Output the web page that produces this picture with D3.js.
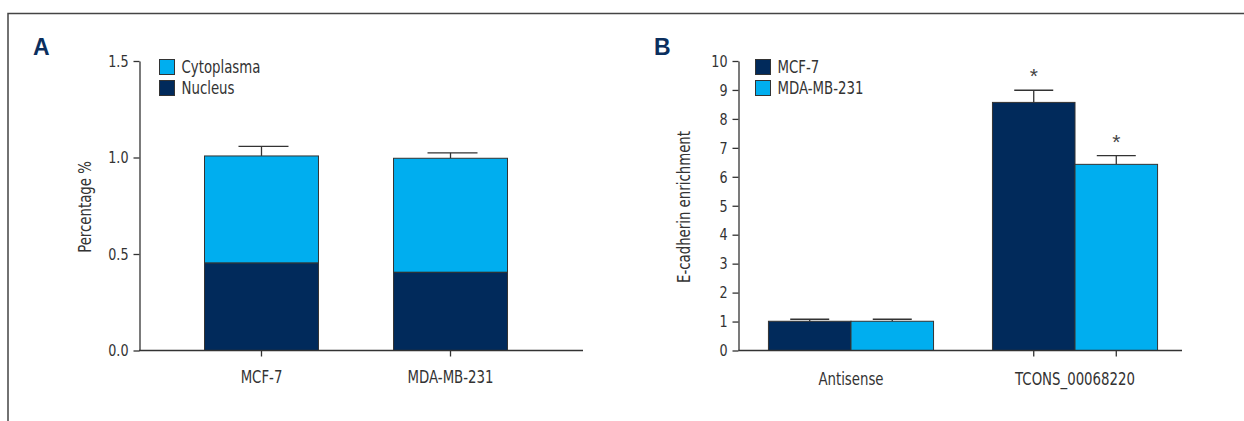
<!DOCTYPE html>
<html>
<head>
<meta charset="utf-8">
<script src="https://cdn.jsdelivr.net/npm/d3@7"></script>
<style>
  body { margin: 0; background: #fff; }
  svg { display: block; }
  text { font-family: "DejaVu Sans Condensed", "Liberation Sans", sans-serif; fill: #333; }
</style>
</head>
<body>
<svg id="chart" width="1244" height="421"></svg>
<script>
"use strict";

// Panel A data
const cellLines = ["MCF-7", "MDA-MB-231"];
const nucleus = [0.453, 0.405];
const cytoplasma = [0.555, 0.591];
const totalErr = [0.05, 0.028];
const yTicksA = [0, 0.5, 1.0, 1.5];

// Panel B data
const treatments = ["Antisense", "TCONS_00068220"];
const seriesB = ["MCF-7", "MDA-MB-231"];
const mcf7Enrich = [1.01, 8.57];
const mdaEnrich = [1.01, 6.43];
const mcf7Err = [0.07, 0.42];
const mdaErr = [0.07, 0.30];
const significant = [false, true];
const yTicksB = [0, 1, 2, 3, 4, 5, 6, 7, 8, 9, 10];

const navy = "#012a5b";
const cyan = "#00aeef";
const ink = "#333";

// the original uses a very narrow font, so squeeze text horizontally
const squeezeText = 0.8;
const squeezeTick = 0.86;

const svg = d3.select("#chart");

// squeeze a text selection around its own x position
function squeeze(sel, k) {
	sel.each(function() {
		const t = d3.select(this);
		const x = +t.attr("x") || 0;
		const prev = t.attr("transform") || "";
		t.attr("x", x / k).attr("transform", (prev + " scale(" + k + ",1)").trim());
	});
}

// frame around both panels
svg.append("path")
	.attr("d", "M8,421V13.5H1244")
	.attr("fill", "none")
	.attr("stroke", "#444")
	.attr("stroke-width", 1.5);

function panelLetter(x, y, s) {
	svg.append("text")
		.attr("x", x).attr("y", y)
		.style("font-family", "'Liberation Sans', sans-serif")
		.style("font-weight", "bold")
		.style("font-size", "23px")
		.style("fill", "#0b2f5e")
		.text(s);
}

function drawLegend(x, y, items) {
	items.forEach((it, i) => {
		svg.append("rect")
			.attr("x", x).attr("y", y + i * 21)
			.attr("width", 15).attr("height", 15)
			.attr("fill", it.color)
			.attr("stroke", ink).attr("stroke-width", 1);
		svg.append("text")
			.attr("x", x + 22).attr("y", y + i * 21 + 14)
			.style("font-size", "18.5px")
			.text(it.label)
			.call(squeeze, squeezeText);
	});
}

function styleAxis(g) {
	g.selectAll(".domain, .tick line").attr("stroke", ink).attr("stroke-width", 1.3);
	g.selectAll(".tick text").style("font-size", "16.5px").attr("fill", ink);
}

// ---------- Panel A ----------
panelLetter(33, 55, "A");

const yA = d3.scaleLinear().domain([0, 1.5]).range([350.5, 61]);
const xA = d3.scaleBand().domain(cellLines).range([134, 578]).paddingInner(0.397).paddingOuter(0.373);

const gyA = svg.append("g").attr("transform", "translate(139.5,0)")
	.call(d3.axisLeft(yA).tickValues(yTicksA).tickFormat(d3.format(".1f")).tickSize(6).tickSizeOuter(0).tickPadding(5));
styleAxis(gyA);
gyA.selectAll(".tick text").call(squeeze, squeezeTick);

svg.append("text")
	.attr("transform", "translate(91,207) rotate(-90)")
	.attr("text-anchor", "middle")
	.style("font-size", "18.5px")
	.text("Percentage %")
	.call(squeeze, squeezeText);

const stackA = cellLines.map((c, i) => ({
	name: c, nucleus: nucleus[i], total: nucleus[i] + cytoplasma[i], err: totalErr[i]
}));

// error bars behind bars
stackA.forEach(d => {
	const cx = xA(d.name) + xA.bandwidth() / 2;
	const top = yA(d.total + d.err);
	svg.append("line")
		.attr("x1", cx).attr("x2", cx)
		.attr("y1", yA(d.total)).attr("y2", top)
		.attr("stroke", ink).attr("stroke-width", 1.3);
	svg.append("line")
		.attr("x1", cx - 23).attr("x2", cx + 27)
		.attr("y1", top).attr("y2", top)
		.attr("stroke", ink).attr("stroke-width", 1.3);
});

svg.selectAll(".cyto")
	.data(stackA)
	.enter()
	.append("rect")
	.attr("x", d => xA(d.name))
	.attr("y", d => yA(d.total))
	.attr("width", xA.bandwidth())
	.attr("height", d => yA(d.nucleus) - yA(d.total))
	.attr("fill", cyan)
	.attr("stroke", ink).attr("stroke-width", 1);

svg.selectAll(".nuc")
	.data(stackA)
	.enter()
	.append("rect")
	.attr("x", d => xA(d.name))
	.attr("y", d => yA(d.nucleus))
	.attr("width", xA.bandwidth())
	.attr("height", d => yA(0) - yA(d.nucleus))
	.attr("fill", navy)
	.attr("stroke", ink).attr("stroke-width", 1);

const gxA = svg.append("g").attr("transform", "translate(0,350.5)")
	.call(d3.axisBottom(xA).tickSize(6).tickSizeOuter(0).tickPadding(13));
gxA.select(".domain").remove();
svg.append("line")
	.attr("x1", 139).attr("x2", 583)
	.attr("y1", 350.5).attr("y2", 350.5)
	.attr("stroke", ink).attr("stroke-width", 1.3);
styleAxis(gxA);
gxA.selectAll(".tick text").style("font-size", "18.5px").call(squeeze, squeezeText);

drawLegend(159.5, 59.5, [
	{label: "Cytoplasma", color: cyan},
	{label: "Nucleus", color: navy}
]);

// ---------- Panel B ----------
panelLetter(654, 55, "B");

const yB = d3.scaleLinear().domain([0, 10]).range([350.5, 61]);
const x0 = d3.scaleBand().domain(treatments).range([741, 1185]).paddingInner(0.263).paddingOuter(0.1225);
const x1 = d3.scaleBand().domain(seriesB).range([0, x0.bandwidth()]);
const colorB = d3.scaleOrdinal().domain(seriesB).range([navy, cyan]);

const gyB = svg.append("g").attr("transform", "translate(738.5,0)")
	.call(d3.axisLeft(yB).tickValues(yTicksB).tickFormat(d3.format("d")).tickSize(6).tickSizeOuter(0).tickPadding(5));
styleAxis(gyB);
gyB.selectAll(".tick text").call(squeeze, squeezeTick);

svg.append("text")
	.attr("transform", "translate(690,207) rotate(-90)")
	.attr("text-anchor", "middle")
	.style("font-size", "18.5px")
	.text("E-cadherin enrichment")
	.call(squeeze, squeezeText);

const barsB = [];
treatments.forEach((t, i) => {
	barsB.push({group: t, series: seriesB[0], value: mcf7Enrich[i], err: mcf7Err[i], sig: significant[i]});
	barsB.push({group: t, series: seriesB[1], value: mdaEnrich[i], err: mdaErr[i], sig: significant[i]});
});

const barX = d => x0(d.group) + x1(d.series);
const barC = d => barX(d) + x1.bandwidth() / 2;

barsB.forEach(d => {
	const top = yB(d.value + d.err);
	svg.append("line")
		.attr("x1", barC(d)).attr("x2", barC(d))
		.attr("y1", yB(d.value)).attr("y2", top)
		.attr("stroke", ink).attr("stroke-width", 1.3);
	svg.append("line")
		.attr("x1", barC(d) - 19.5).attr("x2", barC(d) + 19.5)
		.attr("y1", top).attr("y2", top)
		.attr("stroke", ink).attr("stroke-width", 1.3);
	if (d.sig) {
		svg.append("text")
			.attr("x", barC(d)).attr("y", top - 7)
			.attr("text-anchor", "middle")
			.style("font-family", "'Liberation Sans', sans-serif")
			.style("font-size", "21px")
			.style("fill", "#444")
			.text("*");
	}
});

svg.selectAll(".barB")
	.data(barsB)
	.enter()
	.append("rect")
	.attr("x", barX)
	.attr("y", d => yB(d.value))
	.attr("width", x1.bandwidth())
	.attr("height", d => yB(0) - yB(d.value))
	.attr("fill", d => colorB(d.series))
	.attr("stroke", ink).attr("stroke-width", 1);

// x axis: line, category labels, ticks only under the TCONS bars
svg.append("line")
	.attr("x1", 738.5).attr("x2", 1182)
	.attr("y1", 350.5).attr("y2", 350.5)
	.attr("stroke", ink).attr("stroke-width", 1.3);

svg.selectAll(".tickB")
	.data(barsB.filter(d => d.sig))
	.enter()
	.append("line")
	.attr("x1", barC).attr("x2", barC)
	.attr("y1", 350.5).attr("y2", 356.5)
	.attr("stroke", ink).attr("stroke-width", 1.3);

svg.selectAll(".labB")
	.data(treatments)
	.enter()
	.append("text")
	.attr("x", d => x0(d) + x0.bandwidth() / 2)
	.attr("y", 385)
	.attr("text-anchor", "middle")
	.style("font-size", "18.5px")
	.text(d => d)
	.call(squeeze, squeezeText);

drawLegend(755.5, 59.5, [
	{label: "MCF-7", color: navy},
	{label: "MDA-MB-231", color: cyan}
]);
</script>
</body>
</html>
